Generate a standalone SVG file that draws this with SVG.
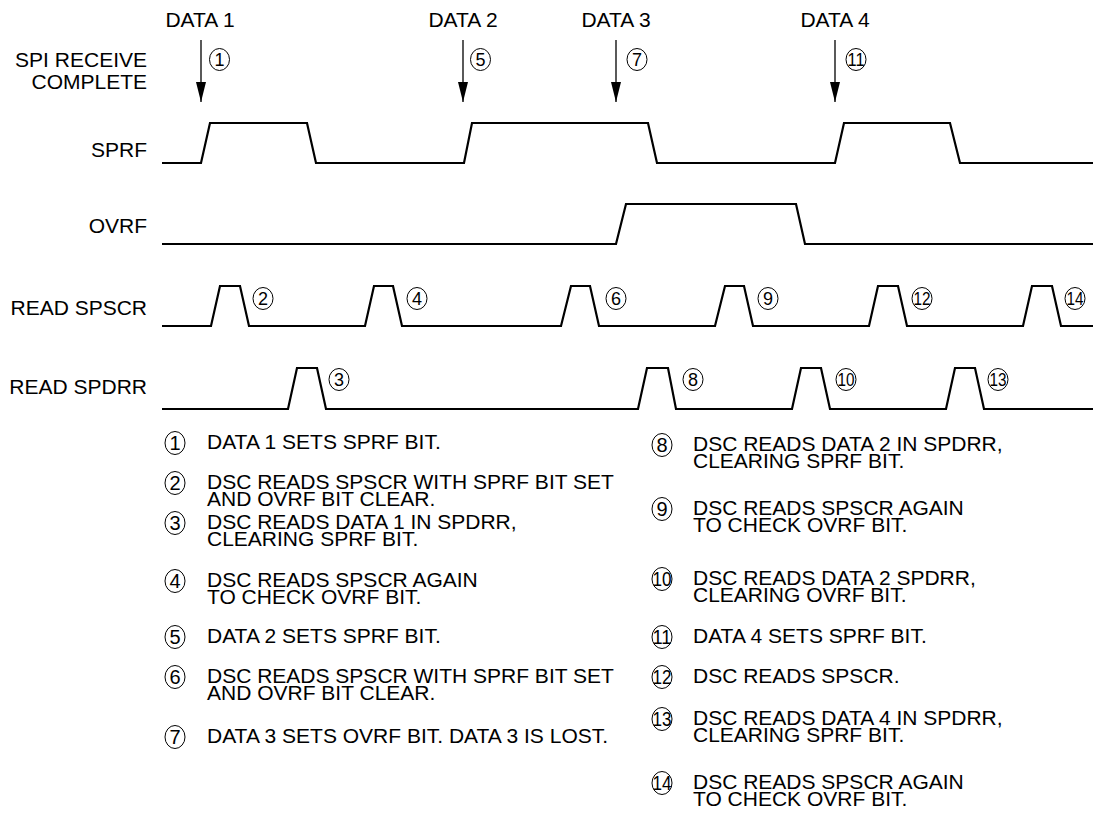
<svg xmlns="http://www.w3.org/2000/svg" width="1093" height="818" viewBox="0 0 1093 818">
<style>
text{font-family:"Liberation Sans",Arial,Helvetica,sans-serif;fill:#000}
.lbl{font-size:21px;text-anchor:end}
.hd{font-size:21px;text-anchor:middle}
.lg{font-size:21px}
.wave{fill:none;stroke:#000;stroke-width:2.2;stroke-linejoin:miter}
.arr{stroke:#000;stroke-width:1.3}
.c{fill:none;stroke:#000;stroke-width:1}
.cn{font-size:18px;text-anchor:middle}
.ln{font-size:20px;text-anchor:middle}
</style>
<defs>
<marker id="ah" markerWidth="20" markerHeight="10" refX="20" refY="5" orient="auto" markerUnits="userSpaceOnUse" viewBox="0 0 20 10">
<path d="M0,0 L20,5 L0,10 Z" fill="#000"/>
</marker>
</defs>
<rect width="1093" height="818" fill="#fff"/>

<g id="labels">
<text class="lbl" x="147" y="67">SPI RECEIVE<tspan x="147" dy="22">COMPLETE</tspan></text>
<text class="lbl" x="147" y="157">SPRF</text>
<text class="lbl" x="147" y="233">OVRF</text>
<text class="lbl" x="147" y="315">READ SPSCR</text>
<text class="lbl" x="147" y="394">READ SPDRR</text>
</g>

<g id="data-events">
<g id="data1"><text class="hd" x="200" y="27">DATA 1</text><ellipse class="c" cx="219.5" cy="59.5" rx="10" ry="11"/><text class="cn" x="219.5" y="66">1</text></g>
<g id="data2"><text class="hd" x="463" y="27">DATA 2</text><ellipse class="c" cx="480.5" cy="59.5" rx="10" ry="11"/><text class="cn" x="480.5" y="66">5</text></g>
<g id="data3"><text class="hd" x="616" y="27">DATA 3</text><ellipse class="c" cx="637" cy="59.5" rx="10" ry="11"/><text class="cn" x="637" y="66">7</text></g>
<g id="data4"><text class="hd" x="835" y="27">DATA 4</text><ellipse class="c" cx="856" cy="59.5" rx="10" ry="11"/><text class="cn" x="856" y="66" textLength="17" lengthAdjust="spacingAndGlyphs">11</text></g>
</g>

<g id="connectors">
<line class="arr" x1="201" y1="40" x2="201" y2="102" marker-end="url(#ah)"/>
<line class="arr" x1="463" y1="40" x2="463" y2="102" marker-end="url(#ah)"/>
<line class="arr" x1="616" y1="40" x2="616" y2="102" marker-end="url(#ah)"/>
<line class="arr" x1="835" y1="40" x2="835" y2="102" marker-end="url(#ah)"/>
</g>

<g id="waveforms">
<path id="w-sprf" class="wave" d="M162,163 H201 L210,123 H307 L316,163 H464 L472,123 H648 L657,163 H835 L844,123 H950 L960,163 H1093"/>
<path id="w-ovrf" class="wave" d="M162,244 H616 L626,204 H796 L805,244 H1093"/>
<path id="w-spscr" class="wave" d="M162,326 H211 L220,286 H240 L249,326 H365 L374,286 H393 L402,326 H561 L571,286 H590 L599,326 H715 L725,286 H744 L753,326 H869 L878,286 H898 L907,326 H1023 L1032,286 H1052 L1061,326 H1093"/>
<path id="w-spdrr" class="wave" d="M162,409 H288 L297,368 H317 L326,409 H638 L647,368 H668 L676,409 H792 L801,368 H821 L830,409 H946 L955,368 H975 L984,409 H1093"/>
</g>

<g id="wave-markers">
<g id="m2"><ellipse class="c" cx="263" cy="298.5" rx="10" ry="11"/><text class="cn" x="263" y="305">2</text></g>
<g id="m4"><ellipse class="c" cx="417" cy="298.5" rx="10" ry="11"/><text class="cn" x="417" y="305">4</text></g>
<g id="m6"><ellipse class="c" cx="616" cy="298.5" rx="10" ry="11"/><text class="cn" x="616" y="305">6</text></g>
<g id="m9"><ellipse class="c" cx="768" cy="298.5" rx="10" ry="11"/><text class="cn" x="768" y="305">9</text></g>
<g id="m12"><ellipse class="c" cx="922" cy="298.5" rx="10" ry="11"/><text class="cn" x="922" y="305" textLength="17" lengthAdjust="spacingAndGlyphs">12</text></g>
<g id="m14"><ellipse class="c" cx="1075" cy="298.5" rx="10" ry="11"/><text class="cn" x="1075" y="305" textLength="17" lengthAdjust="spacingAndGlyphs">14</text></g>
<g id="m3"><ellipse class="c" cx="339" cy="379.5" rx="10" ry="11"/><text class="cn" x="339" y="386">3</text></g>
<g id="m8"><ellipse class="c" cx="693" cy="379.5" rx="10" ry="11"/><text class="cn" x="693" y="386">8</text></g>
<g id="m10"><ellipse class="c" cx="846" cy="379.5" rx="10" ry="11"/><text class="cn" x="846" y="386" textLength="17" lengthAdjust="spacingAndGlyphs">10</text></g>
<g id="m13"><ellipse class="c" cx="998" cy="379.5" rx="10" ry="11"/><text class="cn" x="998" y="386" textLength="17" lengthAdjust="spacingAndGlyphs">13</text></g>
</g>

<g id="legend">
<g id="n1"><ellipse class="c" cx="175" cy="443" rx="10" ry="11.5"/><text class="ln" x="175" y="450">1</text><text class="lg" x="207" y="449">DATA 1 SETS SPRF BIT.</text></g>
<g id="n2"><ellipse class="c" cx="175" cy="483" rx="10" ry="11.5"/><text class="ln" x="175" y="490">2</text><text class="lg" x="207" y="489">DSC READS SPSCR WITH SPRF BIT SET<tspan x="207" dy="17">AND OVRF BIT CLEAR.</tspan></text></g>
<g id="n3"><ellipse class="c" cx="175" cy="523" rx="10" ry="11.5"/><text class="ln" x="175" y="530">3</text><text class="lg" x="207" y="529">DSC READS DATA 1 IN SPDRR,<tspan x="207" dy="17">CLEARING SPRF BIT.</tspan></text></g>
<g id="n4"><ellipse class="c" cx="175" cy="581" rx="10" ry="11.5"/><text class="ln" x="175" y="588">4</text><text class="lg" x="207" y="587">DSC READS SPSCR AGAIN<tspan x="207" dy="17">TO CHECK OVRF BIT.</tspan></text></g>
<g id="n5"><ellipse class="c" cx="175" cy="637" rx="10" ry="11.5"/><text class="ln" x="175" y="644">5</text><text class="lg" x="207" y="643">DATA 2 SETS SPRF BIT.</text></g>
<g id="n6"><ellipse class="c" cx="175" cy="677" rx="10" ry="11.5"/><text class="ln" x="175" y="684">6</text><text class="lg" x="207" y="683">DSC READS SPSCR WITH SPRF BIT SET<tspan x="207" dy="17">AND OVRF BIT CLEAR.</tspan></text></g>
<g id="n7"><ellipse class="c" cx="175" cy="737" rx="10" ry="11.5"/><text class="ln" x="175" y="744">7</text><text class="lg" x="207" y="743">DATA 3 SETS OVRF BIT. DATA 3 IS LOST.</text></g>

<g id="n8"><ellipse class="c" cx="662" cy="445" rx="10" ry="11.5"/><text class="ln" x="662" y="452">8</text><text class="lg" x="693" y="451">DSC READS DATA 2 IN SPDRR,<tspan x="693" dy="17">CLEARING SPRF BIT.</tspan></text></g>
<g id="n9"><ellipse class="c" cx="662" cy="509" rx="10" ry="11.5"/><text class="ln" x="662" y="516">9</text><text class="lg" x="693" y="515">DSC READS SPSCR AGAIN<tspan x="693" dy="17">TO CHECK OVRF BIT.</tspan></text></g>
<g id="n10"><ellipse class="c" cx="662" cy="579" rx="10" ry="11.5"/><text class="ln" x="662" y="586" textLength="19" lengthAdjust="spacingAndGlyphs">10</text><text class="lg" x="693" y="585">DSC READS DATA 2 SPDRR,<tspan x="693" dy="17">CLEARING OVRF BIT.</tspan></text></g>
<g id="n11"><ellipse class="c" cx="662" cy="637" rx="10" ry="11.5"/><text class="ln" x="662" y="644" textLength="19" lengthAdjust="spacingAndGlyphs">11</text><text class="lg" x="693" y="643">DATA 4 SETS SPRF BIT.</text></g>
<g id="n12"><ellipse class="c" cx="662" cy="677" rx="10" ry="11.5"/><text class="ln" x="662" y="684" textLength="19" lengthAdjust="spacingAndGlyphs">12</text><text class="lg" x="693" y="683">DSC READS SPSCR.</text></g>
<g id="n13"><ellipse class="c" cx="662" cy="719" rx="10" ry="11.5"/><text class="ln" x="662" y="726" textLength="19" lengthAdjust="spacingAndGlyphs">13</text><text class="lg" x="693" y="725">DSC READS DATA 4 IN SPDRR,<tspan x="693" dy="17">CLEARING SPRF BIT.</tspan></text></g>
<g id="n14"><ellipse class="c" cx="662" cy="783" rx="10" ry="11.5"/><text class="ln" x="662" y="790" textLength="19" lengthAdjust="spacingAndGlyphs">14</text><text class="lg" x="693" y="789">DSC READS SPSCR AGAIN<tspan x="693" dy="17">TO CHECK OVRF BIT.</tspan></text></g>
</g>
</svg>
